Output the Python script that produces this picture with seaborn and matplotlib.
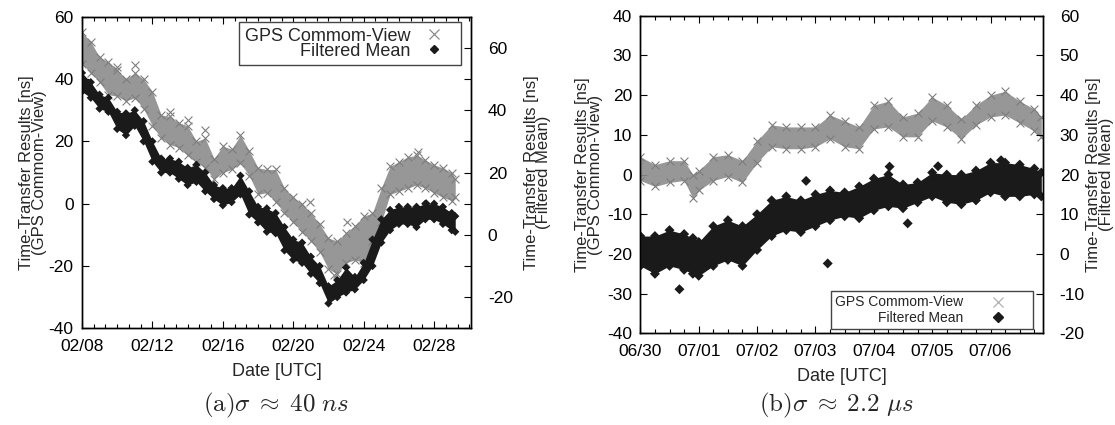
import matplotlib
matplotlib.use("Agg")
import matplotlib.pyplot as plt
from matplotlib.lines import Line2D
from matplotlib.ticker import MultipleLocator
import seaborn as sns

# ---------------- panel (a): days since 02/08 00:00 UTC ----------------
days_a = [0, 0.5, 1, 1.5, 2, 2.5, 3, 3.5, 4, 4.5, 5, 5.5, 6, 6.5, 7, 7.5, 8, 8.5, 9, 9.5,
          10, 10.5, 11, 11.5, 12, 12.5, 13, 13.5, 14, 14.5, 15, 15.5, 16, 16.5, 17, 17.5,
          18, 18.5, 19, 19.5, 20, 20.5, 21, 21.2]
# GPS common-view cloud, upper / lower edge (left axis, ns)
gps_a_hi = [55, 52, 47, 45.5, 43, 40, 42, 40, 36, 28.5, 28, 26, 25, 20, 21, 14.5, 18.5, 17.5, 22, 17,
            11.5, 11, 11, 5, 2, 0, -3, -6.5, -11, -12, -9.5, -7, -4, -3, 5, 12,
            13.5, 15, 15.5, 14, 12.5, 11.5, 10, 8]
gps_a_lo = [45, 42, 39, 35, 34.5, 33, 34, 30.5, 25, 21, 19, 18, 15.5, 13.5, 11.5, 8, 10, 11, 13, 9,
            3, 3.5, 0.5, -3, -6, -9, -12, -15.5, -21, -22.5, -19, -18, -19, -12, -6, 3,
            4, 5, 6, 5, 3.5, 2, 1, 2]
gps_a_out_x = [2.0, 3.0, 5.0, 6.0, 7.0, 12.95, 15.05, 19.1, 14.3]
gps_a_out_y = [44, 44.5, 29.5, 27, 23.5, 0.5, -6, 16.5, -23]
# filtered mean, upper / lower edge (right axis, ns)
mean_a_hi = [52, 49, 45, 44, 39.5, 39, 40, 36.5, 30, 24.5, 24.5, 23.5, 21.5, 22.5, 20, 16, 15, 15, 19, 14,
             9, 8.5, 7, 2.5, -1.5, -2.5, -7, -10, -16.5, -14.5, -10.5, -13.5, -9, -1.5, 5, 8,
             9, 9, 9, 10, 10, 9, 7, 6]
mean_a_lo = [46, 44, 40.5, 39.5, 34, 32, 35, 30, 23.5, 20, 20, 18, 16, 17, 14, 11.5, 9.5, 10.5, 13, 6.5,
             4, 1, 0.5, -5, -8, -9, -12.5, -15.5, -22, -20, -18.5, -17.5, -14.5, -10, -2.5, 1.5,
             3.5, 3.5, 2.5, 5, 5, 3.5, 1.5, 1]
mean_a_out_x = [19.55]
mean_a_out_y = [10.1]
ticks_a = [0, 4, 8, 12, 16, 20]
labels_a = ["02/08", "02/12", "02/16", "02/20", "02/24", "02/28"]

# ---------------- panel (b): days since 06/30 00:00 UTC ----------------
days_b = [0, 0.25, 0.5, 0.75, 0.9, 1.0, 1.25, 1.5, 1.75, 2.0, 2.25, 2.5, 2.75, 3.0, 3.25,
          3.5, 3.75, 4.0, 4.25, 4.5, 4.75, 5.0, 5.25, 5.5, 5.75, 6.0, 6.25, 6.5, 6.75, 6.87]
gps_b_hi = [4.5, 2.5, 3.5, 3.5, 0, 1, 4.5, 5, 3.5, 8.5, 12.5, 12, 12, 12, 15,
            13.5, 12, 17.5, 18.5, 14.5, 15.5, 19.5, 17.5, 14, 17.5, 20, 21, 18.5, 16.5, 14.5]
gps_b_lo = [-1.5, -3, -2, -1.5, -6, -4, -1.5, -0.5, -2, 3, 7, 6.5, 6.5, 7, 9,
            7, 6.5, 11.5, 12, 9.5, 9.5, 13.5, 12, 9, 12.5, 14.5, 15, 13, 11, 9.5]
mean_b_hi = [4.5, 4.5, 6, 5, 4, 3, 7, 8.5, 7, 10, 13.5, 14.5, 13.5, 15, 16,
             15.5, 17, 19, 20, 17.5, 18, 20.5, 20, 20, 21, 23, 23, 22.5, 21.5, 20.5]
mean_b_lo = [-3, -5, -3, -4, -5, -5.5, -3, -1.5, -3, 1, 4.5, 6, 5.5, 7, 8.5,
             9.5, 9, 11, 12, 11.5, 13, 14.5, 13, 12.5, 13.5, 15.5, 14.5, 14.5, 15, 14.5]
mean_b_out_x = [0.67, 2.84, 3.21, 4.58, 4.27, 5.1, 6.18]
mean_b_out_y = [-8.9, 18.4, -2.4, 7.7, 22, 22.1, 23.6]
ticks_b = [0, 1, 2, 3, 4, 5, 6]
labels_b = ["06/30", "07/01", "07/02", "07/03", "07/04", "07/05", "07/06"]

GRAY = "#8c8c8c"
BLACK = "#1a1a1a"

sns.set_style("ticks", {"axes.edgecolor": "black", "xtick.color": "black", "ytick.color": "black"})
plt.rcParams["font.family"] = ["Liberation Sans", "DejaVu Sans"]
plt.rcParams["mathtext.fontset"] = "cm"
plt.rcParams["axes.unicode_minus"] = False

fig = plt.figure(figsize=(11.15, 4.25), dpi=100)
ax_a = fig.add_axes([0.0735, 0.2275, 0.349, 0.733])
ax_b = fig.add_axes([0.5743, 0.2158, 0.3612, 0.747])


def draw_panel(ax, days, g_hi, g_lo, g_ox, g_oy, m_hi, m_lo, m_ox, m_oy, msize):
    # GPS common-view on the left axis
    ax.fill_between(days, g_lo, g_hi, color=GRAY, lw=0, alpha=0.9)
    sns.scatterplot(x=days + days + g_ox, y=g_hi + g_lo + g_oy, marker="x", color="#7d7d7d",
                    s=32, linewidth=0.8, ax=ax, legend=False)
    # filtered mean on the right axis
    ax2 = ax.twinx()
    ax2.fill_between(days, m_lo, m_hi, color=BLACK, lw=0)
    sns.scatterplot(x=days + days + m_ox, y=m_hi + m_lo + m_oy, marker="D", color=BLACK,
                    s=msize, edgecolor="none", ax=ax2, legend=False)
    return ax2


ax2_a = draw_panel(ax_a, days_a, gps_a_hi, gps_a_lo, gps_a_out_x, gps_a_out_y,
                   mean_a_hi, mean_a_lo, mean_a_out_x, mean_a_out_y, 18)
ax2_b = draw_panel(ax_b, days_b, gps_b_hi, gps_b_lo, [], [],
                   mean_b_hi, mean_b_lo, mean_b_out_x, mean_b_out_y, 26)

# axes ranges and ticks
ax_a.set_xlim(0, 22.1)
ax_a.set_ylim(-40, 60)
ax2_a.set_ylim(-30, 70)
ax_a.set_xticks(ticks_a, labels_a)
ax_a.xaxis.set_minor_locator(MultipleLocator(4 / 6))
ax_a.yaxis.set_major_locator(MultipleLocator(20))
ax2_a.yaxis.set_major_locator(MultipleLocator(20))
ax2_a.yaxis.set_minor_locator(MultipleLocator(10))

ax_b.set_xlim(0, 6.9)
ax_b.set_ylim(-40, 40)
ax2_b.set_ylim(-20, 60)
ax_b.set_xticks(ticks_b, labels_b)
ax_b.xaxis.set_minor_locator(MultipleLocator(0.25))
ax_b.yaxis.set_major_locator(MultipleLocator(10))
ax2_b.yaxis.set_major_locator(MultipleLocator(10))

for ax, ax2, lpad_r in [(ax_a, ax2_a, 8), (ax_b, ax2_b, 1)]:
    ax.tick_params(which="both", direction="in", top=True, labelsize=12.5, width=0.8)
    ax.tick_params(which="major", length=5, pad=8)
    ax.tick_params(which="minor", length=3)
    ax.tick_params(axis="y", pad=6)
    ax2.tick_params(which="both", direction="in", labelsize=12.5, width=0.8, pad=12)
    ax2.tick_params(which="major", length=5)
    ax2.tick_params(which="minor", length=5)
    ax.set_xlabel("Date [UTC]", fontsize=13, labelpad=6)
    ax2.set_ylabel("Time-Transfer Results [ns]\n(Filtered Mean)", fontsize=12,
                   linespacing=0.8, labelpad=lpad_r)
    for sp in list(ax.spines.values()) + list(ax2.spines.values()):
        sp.set_linewidth(1.0)
        sp.set_color("black")

ax_a.set_ylabel("Time-Transfer Results [ns]\n(GPS Commom-View)", fontsize=12,
                linespacing=0.8, labelpad=1.5)
ax_b.set_ylabel("Time-Transfer Results [ns]\n(GPS Common-View)", fontsize=12,
                linespacing=0.8, labelpad=3)

# legends (gnuplot style: text first, marker after)
handles_a = [Line2D([], [], ls="", marker="x", color=GRAY, ms=7, mew=0.9),
             Line2D([], [], ls="", marker="D", color=BLACK, ms=4)]
handles_b = [Line2D([], [], ls="", marker="x", color="#b0b0b0", ms=7, mew=0.9),
             Line2D([], [], ls="", marker="D", color=BLACK, ms=5)]
names = ["GPS Commom-View", "Filtered Mean"]

leg_a = ax2_a.legend(handles_a, names, loc="upper right", bbox_to_anchor=(0.974, 0.983),
                     borderaxespad=0, markerfirst=False, fontsize=13, frameon=True,
                     fancybox=False, edgecolor="#444444", framealpha=1,
                     handlelength=2.4, handletextpad=0.1, borderpad=0.3, labelspacing=-0.1)
leg_a.get_frame().set_linewidth(1.0)
leg_b = ax2_b.legend(handles_b, names, loc="lower right", bbox_to_anchor=(0.975, 0.0135),
                     borderaxespad=0, markerfirst=False, fontsize=10, frameon=True,
                     fancybox=False, edgecolor="#444444", framealpha=1,
                     handlelength=4.5, handletextpad=0.2, borderpad=0.3, labelspacing=0.1)
leg_b.get_frame().set_linewidth(1.0)

# sub-figure captions
fig.text(276.5 / 1115, 1 - 405 / 425, r"$\mathrm{(a)}\sigma\;\approx\;40\ ns$",
         fontsize=18, ha="center", va="center")
fig.text(836 / 1115, 1 - 405 / 425, r"$\mathrm{(b)}\sigma\;\approx\;2.2\ \mu s$",
         fontsize=18, ha="center", va="center")

fig.savefig("out.png", dpi=100)
